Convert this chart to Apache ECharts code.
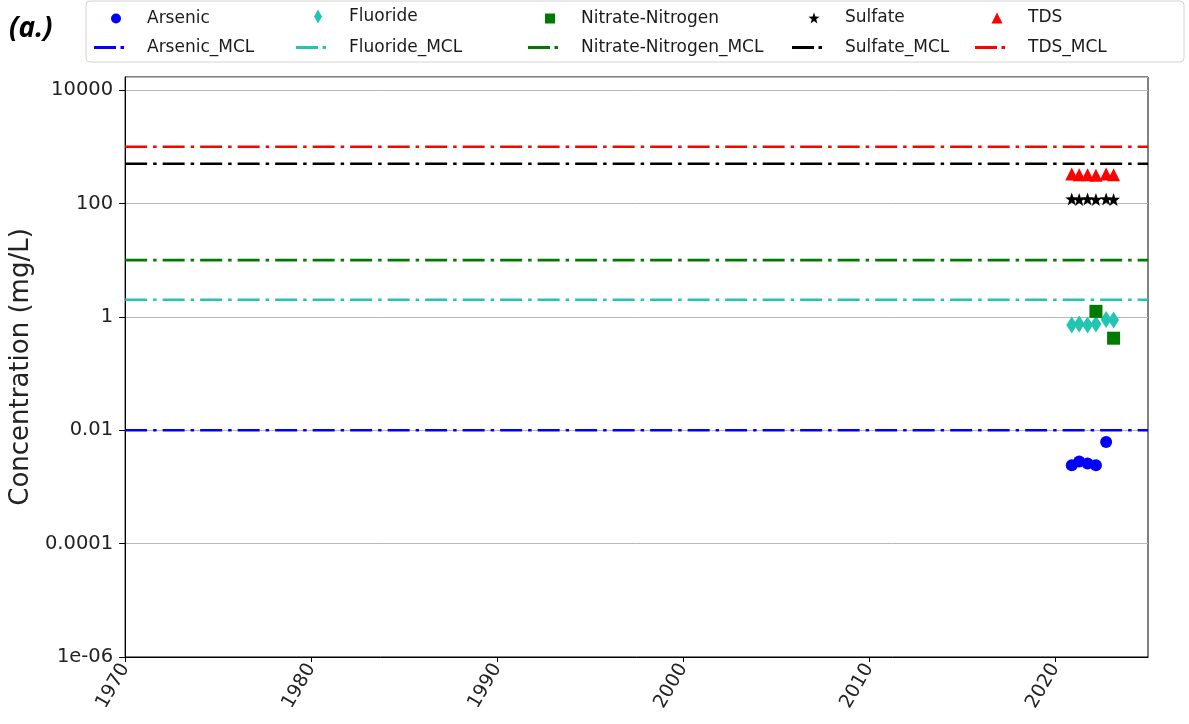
<!DOCTYPE html>
<html>
<head>
<meta charset="utf-8">
<title>Concentration (mg/L)</title>
<script src="https://cdn.jsdelivr.net/npm/echarts@6/dist/echarts.min.js"></script>
<style>
  html, body { margin: 0; padding: 0; background: #ffffff; }
  #chart { width: 1189px; height: 724px; }
</style>
</head>
<body>
<div id="chart"></div>
<script>
// ---- Data -------------------------------------------------------------
// Sample dates as decimal years
const sampleYears   = [2020.9, 2021.3, 2021.75, 2022.2, 2022.75, 2023.15];
const arsenicYears  = [2020.9, 2021.3, 2021.75, 2022.2, 2022.75];
const arsenic       = [0.0024, 0.0028, 0.0026, 0.0024, 0.0062];
const fluoride      = [0.72, 0.75, 0.72, 0.75, 0.9, 0.88];
const nitrateYears  = [2022.2, 2023.15];
const nitrate       = [1.25, 0.42];
const sulfate       = [120, 118, 120, 118, 120, 118];
const tds           = [330, 320, 320, 315, 330, 320];

// Maximum contaminant levels (mg/L)
const mclNames  = ['Arsenic_MCL', 'Fluoride_MCL', 'Nitrate-Nitrogen_MCL', 'Sulfate_MCL', 'TDS_MCL'];
const mclValues = [0.01, 2, 10, 500, 1000];

const analytes  = ['Arsenic', 'Fluoride', 'Nitrate-Nitrogen', 'Sulfate', 'TDS'];

// Axis ranges and tick labels
const yearRange = [1970, 2025];
const concRange = [1e-6, 17000];
const yTickExponents = [-6, -4, -2, 0, 2, 4];
const yTickLabels    = ['1e-06', '0.0001', '0.01', '1', '100', '10000'];

// ---- Styling ------------------------------------------------------------
const colors = ['#0000ff', '#22c4b2', '#007a00', '#000000', '#ff0000'];

function starPath() {
  const pts = [];
  for (let i = 0; i < 10; i++) {
    const r = i % 2 === 0 ? 50 : 20;
    const a = -Math.PI / 2 + i * Math.PI / 5;
    pts.push((50 + r * Math.cos(a)).toFixed(2) + ' ' + (50 + r * Math.sin(a)).toFixed(2));
  }
  return 'path://M' + pts.join(' L') + ' Z';
}
const STAR = starPath();
// dash-dot glyph used as the legend key of the MCL lines
const DASH_DOT_ICON = 'path://M0 0 H22 V3 H0 Z M26.5 0 H30 V3 H26.5 Z';

const symbols     = ['circle', 'diamond', 'rect', STAR, 'triangle'];
const symbolSizes = [12, [11, 17], 13, 13, 13];
const legendSym   = [[10, 10], [8, 14], [10, 10], [11, 11], [11, 11]];
const dashDot     = [22, 6, 3.5, 6];

const FONT = 'DejaVu Sans';
const LEGEND_FONT = 17;

function pairs(xs, ys) { return ys.map((v, i) => [xs[i], v]); }

const scatterData = [
  pairs(arsenicYears, arsenic),
  pairs(sampleYears, fluoride),
  pairs(nitrateYears, nitrate),
  pairs(sampleYears, sulfate),
  pairs(sampleYears, tds)
];

const series = [];
analytes.forEach((name, i) => {
  series.push({
    name: name,
    type: 'scatter',
    data: scatterData[i],
    symbol: symbols[i],
    symbolSize: symbolSizes[i],
    symbolKeepAspect: false,
    itemStyle: { color: colors[i], opacity: 1 },
    z: 3
  });
});
mclNames.forEach((name, i) => {
  series.push({
    name: name,
    type: 'line',
    data: [[yearRange[0], mclValues[i]], [yearRange[1], mclValues[i]]],
    symbol: 'none',
    silent: true,
    lineStyle: { color: colors[i], width: 2.6, type: dashDot },
    itemStyle: { color: colors[i] },
    z: 2
  });
});

// Legend: five columns, analyte on the first row and its MCL on the second
const colTextX = [147, 349, 581, 845, 1028];
const legends = [];
analytes.forEach((name, i) => {
  const [w, h] = legendSym[i];
  const markerX = colTextX[i] - 31;
  legends.push({
    data: [name],
    left: markerX - w / 2,
    top: 15 - h / 2,
    padding: 0,
    itemWidth: w,
    itemHeight: h,
    symbolKeepAspect: false,
    selectedMode: false,
    textStyle: { fontSize: LEGEND_FONT, color: '#1a1a1a', fontFamily: FONT,
                 padding: [0, 0, 0, 31 - w / 2 - 5] }
  });
  legends.push({
    data: [mclNames[i]],
    icon: DASH_DOT_ICON,
    left: colTextX[i] - 53,
    top: 39,
    padding: 0,
    itemWidth: 30,
    itemHeight: 3,
    symbolKeepAspect: false,
    selectedMode: false,
    textStyle: { fontSize: LEGEND_FONT, color: '#1a1a1a', fontFamily: FONT,
                 padding: [0, 0, 0, 53 - 30 - 5] }
  });
});

const chart = echarts.init(document.getElementById('chart'), null, { renderer: 'canvas' });

chart.setOption({
  animation: false,
  backgroundColor: '#ffffff',
  textStyle: { fontFamily: FONT },
  grid: {
    left: 124, right: 41, top: 77, bottom: 67,
    show: true, borderColor: '#000000', borderWidth: 1, backgroundColor: 'transparent'
  },
  legend: legends,
  graphic: [
    {
      type: 'rect',
      shape: { x: 86, y: 1, width: 1098, height: 61, r: 4 },
      style: { fill: 'none', stroke: '#d4d4d4', lineWidth: 1 },
      silent: true, z: -1
    },
    {
      type: 'text',
      left: 9, top: 15,
      style: { text: '(a.)', fill: '#000000', font: 'italic bold 28px "Open Sans"' },
      silent: true
    }
  ],
  xAxis: {
    type: 'value',
    min: yearRange[0],
    max: yearRange[1],
    interval: 10,
    splitLine: { show: false },
    axisLine: { show: true, lineStyle: { color: '#000000', width: 1 } },
    axisTick: { show: true, inside: false, length: 5, lineStyle: { color: '#000000' } },
    axisLabel: {
      rotate: 60, fontSize: 19, color: '#222222', margin: 8, showMaxLabel: false,
      fontFamily: FONT,
      formatter: v => (v % 10 === 0 ? String(v) : '')
    }
  },
  yAxis: {
    type: 'log',
    logBase: 10,
    min: concRange[0],
    max: concRange[1],
    interval: 2,
    name: 'Concentration (mg/L)',
    nameLocation: 'middle',
    nameGap: 90,
    nameTextStyle: { fontSize: 26, color: '#222222', fontFamily: FONT },
    axisLine: { show: true, lineStyle: { color: '#000000', width: 1 } },
    axisTick: { show: true, inside: false, length: 6, lineStyle: { color: '#000000' } },
    minorTick: { show: false },
    splitLine: { show: true, lineStyle: { color: '#b8b8b8', width: 1 } },
    axisLabel: {
      fontSize: 19.5, color: '#222222', margin: 12, fontFamily: FONT,
      showMaxLabel: false,
      formatter: v => {
        const e = Math.log10(v);
        const k = yTickExponents.indexOf(Math.round(e));
        return (k >= 0 && Math.abs(e - Math.round(e)) < 1e-6) ? yTickLabels[k] : '';
      }
    }
  },
  series: series
});
</script>
</body>
</html>
